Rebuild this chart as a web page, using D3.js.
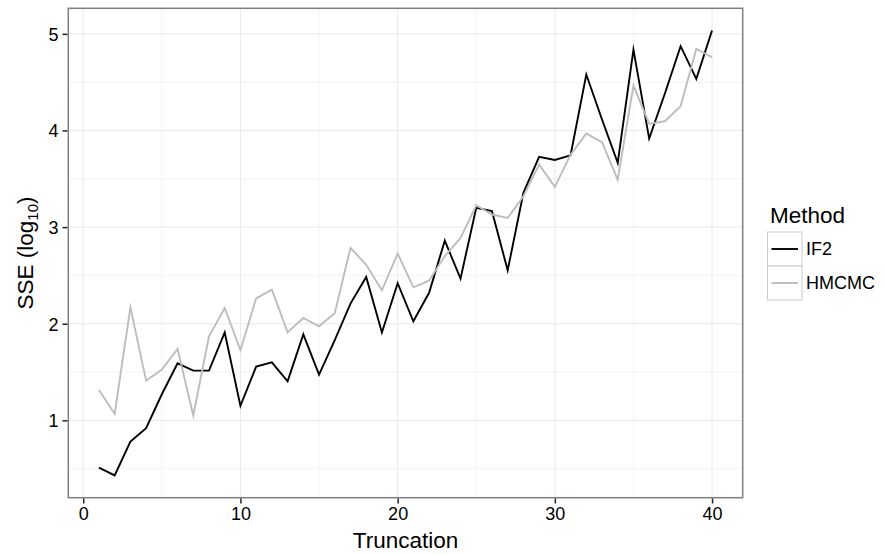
<!DOCTYPE html>
<html>
<head>
<meta charset="utf-8">
<script src="https://cdn.jsdelivr.net/npm/d3@7"></script>
<style>
  html, body { margin: 0; padding: 0; background: #fff; }
  svg { display: block; font-family: "Liberation Sans", Arial, Helvetica, sans-serif; }
</style>
</head>
<body>
<svg id="chart" width="885" height="554"></svg>
<script>
// Truncation levels 1..40
const truncation = d3.range(1, 41);

// log10 sum of squared errors per method
const if2 = [0.51, 0.43, 0.78, 0.92, 1.27, 1.59, 1.515, 1.515, 1.91, 1.15,
             1.556, 1.60, 1.404, 1.89, 1.473, 1.83, 2.208, 2.484, 1.91, 2.42,
             2.025, 2.32, 2.86, 2.467, 3.20, 3.165, 2.553, 3.354, 3.727, 3.695,
             3.743, 4.579, 4.113, 3.665, 4.837, 3.916, 4.382, 4.872, 4.534, 5.034];
const hmcmc = [1.315, 1.066, 2.17, 1.41, 1.525, 1.74, 1.05, 1.87, 2.163, 1.725,
               2.263, 2.353, 1.91, 2.06, 1.973, 2.11, 2.785, 2.61, 2.346, 2.726,
               2.377, 2.446, 2.70, 2.888, 3.226, 3.13, 3.095, 3.319, 3.647, 3.416,
               3.75, 3.968, 3.878, 3.49, 4.465, 4.07, 4.095, 4.25, 4.845, 4.758];

const methods = ["IF2", "HMCMC"];
const methodColors = ["#000000", "#bdbdbd"];

const xTicks = [0, 10, 20, 30, 40];
const xMinor = [5, 15, 25, 35];
const yTicks = [1, 2, 3, 4, 5];
const yMinor = [0.5, 1.5, 2.5, 3.5, 4.5];

const panel = { left: 68.3, top: 8.3, right: 742.7, bottom: 497.7 };

const svg = d3.select("#chart");

// ggplot-style 5% expansion around the data range
const xExt = d3.extent(truncation);
const xPad = (xExt[1] - xExt[0]) * 0.05;
const allY = if2.concat(hmcmc);
const yExt = d3.extent(allY);
const yPad = (yExt[1] - yExt[0]) * 0.05;

const x = d3.scaleLinear()
  .domain([xExt[0] - xPad, xExt[1] + xPad])
  .range([panel.left, panel.right]);
const y = d3.scaleLinear()
  .domain([yExt[0] - yPad, yExt[1] + yPad])
  .range([panel.bottom, panel.top]);

const g = svg.append("g");

// panel background
g.append("rect")
  .attr("x", panel.left).attr("y", panel.top)
  .attr("width", panel.right - panel.left)
  .attr("height", panel.bottom - panel.top)
  .attr("fill", "#ffffff");

// minor grid
g.selectAll(".xminor").data(xMinor).join("line")
  .attr("x1", d => x(d)).attr("x2", d => x(d))
  .attr("y1", panel.top).attr("y2", panel.bottom)
  .attr("stroke", "#f5f5f5").attr("stroke-width", 1.2);
g.selectAll(".yminor").data(yMinor).join("line")
  .attr("y1", d => y(d)).attr("y2", d => y(d))
  .attr("x1", panel.left).attr("x2", panel.right)
  .attr("stroke", "#f5f5f5").attr("stroke-width", 1.2);

// major grid
g.selectAll(".xmajor").data(xTicks).join("line")
  .attr("x1", d => x(d)).attr("x2", d => x(d))
  .attr("y1", panel.top).attr("y2", panel.bottom)
  .attr("stroke", "#e9e9e9").attr("stroke-width", 1);
g.selectAll(".ymajor").data(yTicks).join("line")
  .attr("y1", d => y(d)).attr("y2", d => y(d))
  .attr("x1", panel.left).attr("x2", panel.right)
  .attr("stroke", "#e9e9e9").attr("stroke-width", 1);

// series lines
const series = [if2, hmcmc];
const line = d3.line()
  .x((d, i) => x(truncation[i]))
  .y(d => y(d));
series.forEach((vals, k) => {
  g.append("path")
    .datum(vals)
    .attr("d", line)
    .attr("fill", "none")
    .attr("stroke", methodColors[k])
    .attr("stroke-width", 1.9)
    .attr("stroke-linejoin", "miter")
    .attr("stroke-miterlimit", 10);
});

// panel border
g.append("rect")
  .attr("x", panel.left).attr("y", panel.top)
  .attr("width", panel.right - panel.left)
  .attr("height", panel.bottom - panel.top)
  .attr("fill", "none")
  .attr("stroke", "#7f7f7f").attr("stroke-width", 1.5);

// axes
const xAxis = d3.axisBottom(x).tickValues(xTicks).tickSize(5).tickPadding(4).tickFormat(d3.format("d"));
const yAxis = d3.axisLeft(y).tickValues(yTicks).tickSize(5).tickPadding(4).tickFormat(d3.format("d"));

const xg = svg.append("g").attr("transform", `translate(0,${panel.bottom + 0.8})`).call(xAxis);
const yg = svg.append("g").attr("transform", `translate(${panel.left - 0.8},0)`).call(yAxis);
[xg, yg].forEach(a => {
  a.select(".domain").remove();
  a.selectAll(".tick line").attr("stroke", "#222").attr("stroke-width", 1.5);
  a.selectAll(".tick text")
    .attr("fill", "#000")
    .style("font-size", "18px")
    .style("font-family", "'Liberation Sans', Arial, sans-serif");
});
xg.selectAll(".tick text").attr("dy", "0.71em");
yg.selectAll(".tick text").attr("dy", "0.35em");

// axis titles
svg.append("text")
  .attr("x", (panel.left + panel.right) / 2)
  .attr("y", 548)
  .attr("text-anchor", "middle")
  .style("font-size", "22.5px")
  .text("Truncation");

const yt = svg.append("text")
  .attr("transform", `translate(33,${(panel.top + panel.bottom) / 2}) rotate(-90)`)
  .attr("text-anchor", "middle")
  .style("font-size", "22.5px");
yt.append("tspan").text("SSE (log");
yt.append("tspan").attr("dy", 5).style("font-size", "15px").text("10");
yt.append("tspan").attr("dy", -5).text(")");

// legend
const lg = svg.append("g");
lg.append("text")
  .attr("x", 770).attr("y", 223)
  .style("font-size", "22.5px")
  .text("Method");

const keyX = 767.5, keyY0 = 232, keyW = 34.5, keyH = 34;
methods.forEach((m, i) => {
  const ky = keyY0 + i * keyH;
  lg.append("rect")
    .attr("x", keyX).attr("y", ky)
    .attr("width", keyW).attr("height", keyH)
    .attr("fill", "#fff")
    .attr("stroke", "#cccccc").attr("stroke-width", 1);
  lg.append("line")
    .attr("x1", keyX + 4).attr("x2", keyX + keyW - 4)
    .attr("y1", ky + keyH / 2).attr("y2", ky + keyH / 2)
    .attr("stroke", methodColors[i]).attr("stroke-width", 1.9);
  lg.append("text")
    .attr("x", 806).attr("y", ky + keyH / 2)
    .attr("dy", "0.35em")
    .style("font-size", "18px")
    .text(m);
});
</script>
</body>
</html>
